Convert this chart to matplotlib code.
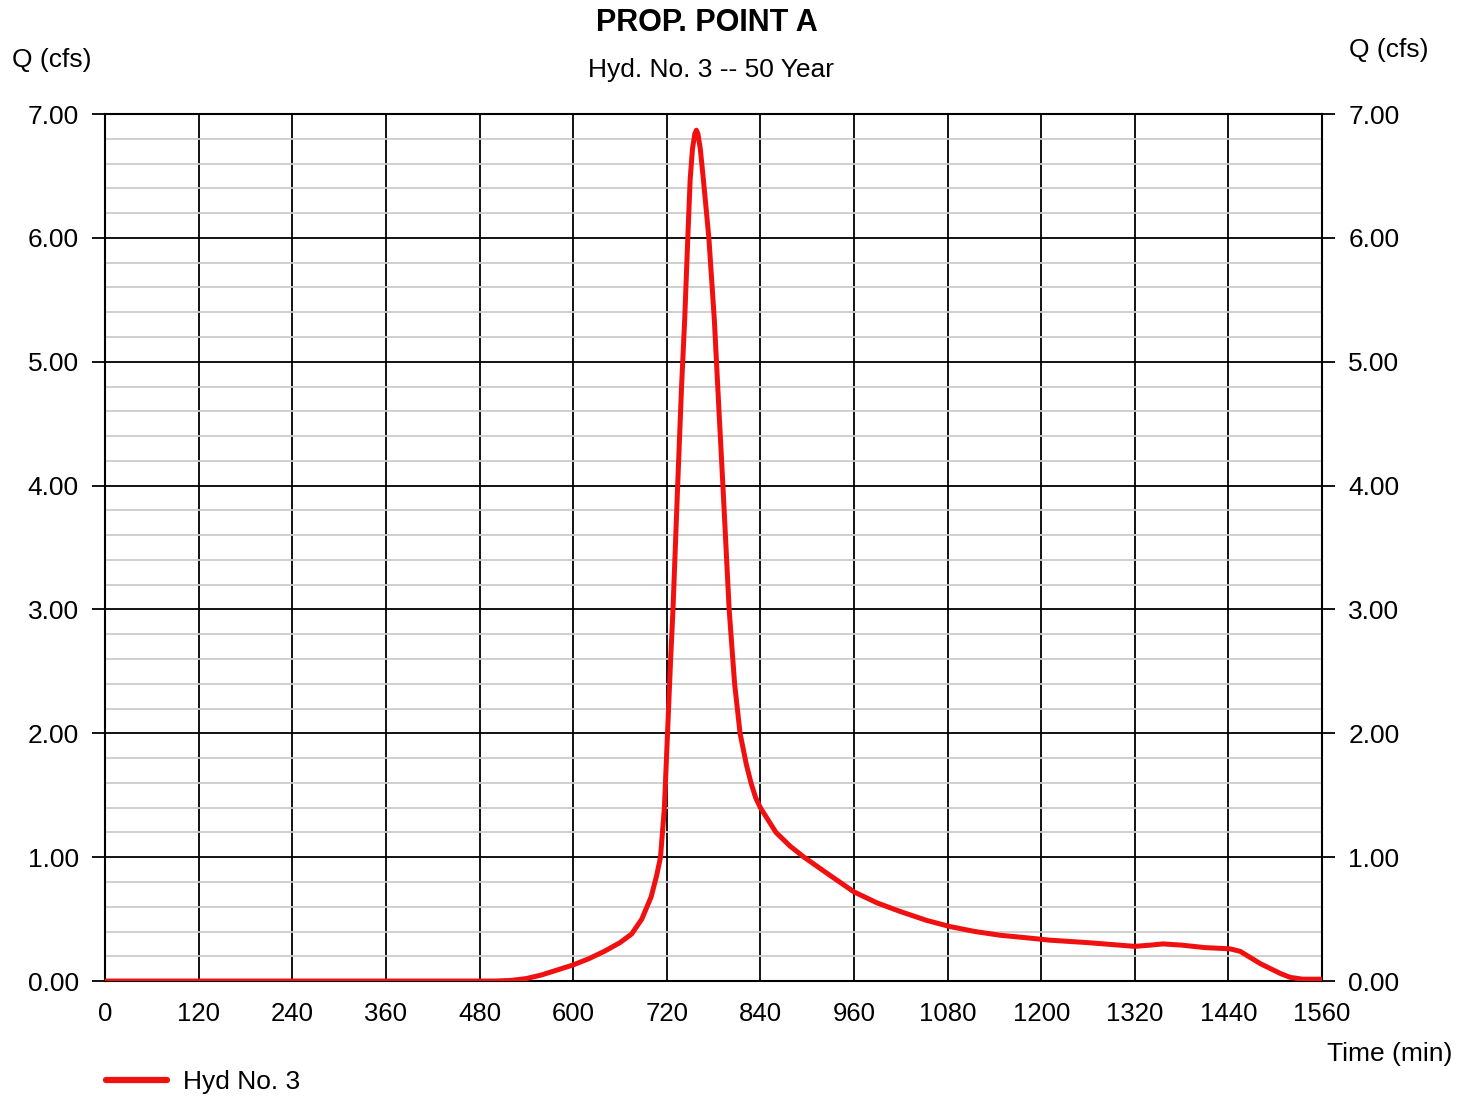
import numpy as np
import matplotlib.pyplot as plt
from matplotlib.ticker import MultipleLocator

plt.rcParams['font.family'] = ['Liberation Sans', 'DejaVu Sans']

# hydrograph (time in min, Q in cfs)
time_min = [0, 120, 240, 360, 480, 500, 520, 540, 560, 580, 600, 620, 640, 660, 675,
            688, 700, 707, 712, 717, 721, 725, 728, 734, 739, 743, 747, 750, 753, 756,
            758, 760, 763, 767, 774, 781, 787, 792, 800, 807, 814, 822, 828, 834, 840,
            850, 860, 878, 896, 930, 960, 990, 1020, 1053, 1083, 1115, 1147, 1180, 1211,
            1260, 1300, 1320, 1340, 1356, 1380, 1410, 1442, 1455, 1468, 1481, 1494, 1507,
            1519, 1535, 1560]
flow_cfs = [0.0, 0.0, 0.0, 0.0, 0.0, 0.0, 0.005, 0.02, 0.05, 0.09, 0.13, 0.18, 0.24, 0.31, 0.38,
            0.5, 0.68, 0.85, 1.0, 1.4, 2.0, 2.6, 3.0, 4.0, 4.8, 5.34, 6.0, 6.47, 6.72, 6.84,
            6.87, 6.84, 6.72, 6.47, 6.0, 5.34, 4.6, 4.0, 3.0, 2.4, 2.0, 1.75, 1.6, 1.48, 1.4,
            1.3, 1.2, 1.09, 1.0, 0.85, 0.72, 0.63, 0.56, 0.49, 0.44, 0.4, 0.37, 0.35, 0.33,
            0.31, 0.29, 0.28, 0.29, 0.3, 0.29, 0.27, 0.26, 0.24, 0.19, 0.14, 0.1, 0.06,
            0.03, 0.015, 0.015]

fig = plt.figure(figsize=(14.67, 10.97), dpi=100)
ax = fig.add_axes([0.0716, 0.1057, 0.8296, 0.7903])

ax.set_xlim(0, 1560)
ax.set_ylim(0, 7)
ax.xaxis.set_major_locator(MultipleLocator(120))
ax.yaxis.set_major_locator(MultipleLocator(1))
ax.yaxis.set_minor_locator(MultipleLocator(0.2))

ax.grid(which='minor', axis='y', color='#cccccc', lw=1.3)
ax.grid(which='major', axis='both', color='black', lw=1.3)
ax.set_axisbelow(True)
for s in ax.spines.values():
    s.set_linewidth(1.5)

ax.plot(time_min, flow_cfs, color='#f01010', lw=3.6, solid_capstyle='round',
        solid_joinstyle='round', label='Hyd No. 3', zorder=5)

ax.tick_params(axis='y', which='major', length=9.5, width=1.3, labelsize=19,
               right=True, labelright=True, pad=9.5)
ax.tick_params(axis='y', which='minor', length=0)
ax.tick_params(axis='x', length=0, labelsize=18.5, pad=15)
ax.set_yticks(np.arange(0, 8), ['%.2f' % v for v in range(8)])
ax.set_xticks(np.arange(0, 1561, 120), [str(v) for v in range(0, 1561, 120)])

fig.text(0.482, 0.979, 'PROP. POINT A', ha='center', va='center', fontsize=22, fontweight='bold')
fig.text(0.485, 0.936, 'Hyd. No. 3 -- 50 Year', ha='center', va='center', fontsize=19)
fig.text(0.008, 0.945, 'Q (cfs)', ha='left', va='center', fontsize=19)
fig.text(0.974, 0.954, 'Q (cfs)', ha='right', va='center', fontsize=19)
fig.text(0.99, 0.039, 'Time (min)', ha='right', va='center', fontsize=19)

leg = fig.legend(loc='center left', bbox_to_anchor=(0.0562, 0.0137), frameon=False,
                 fontsize=19, handlelength=2.3, handletextpad=0.6)
leg.get_lines()[0].set_linewidth(4.5)

fig.savefig('out.png', dpi=100)
